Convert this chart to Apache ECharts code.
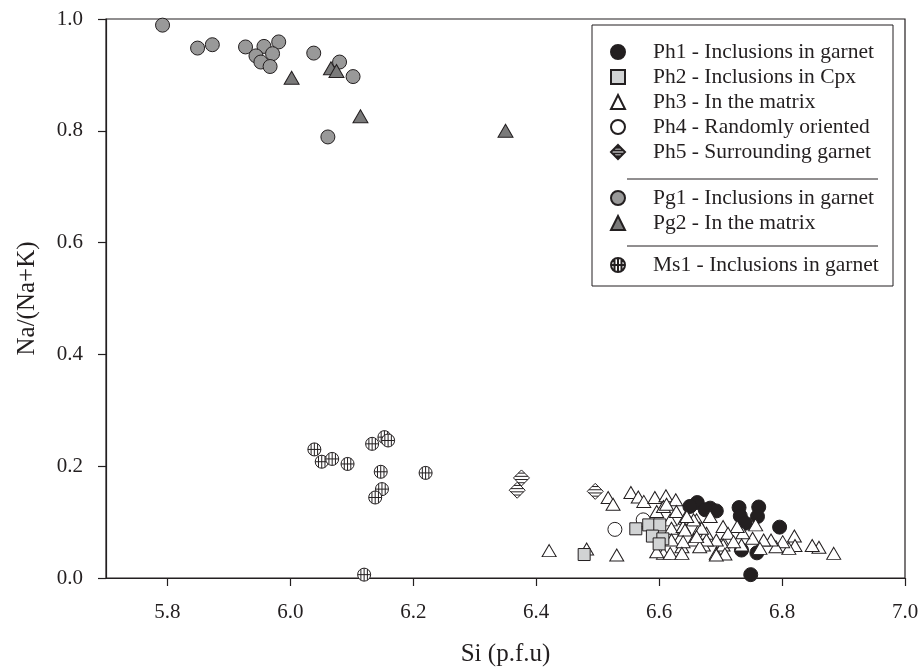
<!DOCTYPE html>
<html>
<head>
<meta charset="utf-8">
<script src="https://cdn.jsdelivr.net/npm/echarts@6/dist/echarts.min.js"></script>
<style>
html,body{margin:0;padding:0;background:#fff;}
#chart{width:919px;height:672px;}
</style>
</head>
<body>
<div id="chart"></div>
<script>
// ---- Data: [Si (p.f.u), Na/(Na+K)] ----
const ph1 = [[6.662,0.135],[6.683,0.125],[6.693,0.120],[6.650,0.128],[6.730,0.126],[6.762,0.127],[6.760,0.110],[6.732,0.111],[6.740,0.098],[6.796,0.091],[6.759,0.045],[6.734,0.050],[6.749,0.006],[6.675,0.122]];
const ph2 = [[6.478,0.042],[6.562,0.088],[6.583,0.095],[6.601,0.095],[6.589,0.075],[6.606,0.070],[6.600,0.061]];
const ph3 = [[6.421,0.049],[6.482,0.052],[6.531,0.041],[6.517,0.144],[6.525,0.132],[6.554,0.153],[6.566,0.145],[6.575,0.137],[6.593,0.144],[6.611,0.147],[6.627,0.140],
  [6.596,0.119],[6.607,0.128],[6.618,0.104],[6.620,0.089],[6.628,0.119],[6.642,0.107],[6.639,0.092],[6.634,0.071],[6.620,0.068],[6.607,0.044],[6.618,0.044],[6.637,0.056],[6.596,0.047],[6.661,0.104],[6.666,0.089],[6.677,0.080],[6.683,0.110],[6.656,0.068],[6.672,0.059],[6.693,0.044],[6.704,0.065],[6.704,0.092],
  [6.884,0.044],[6.860,0.055],[6.849,0.058],[6.820,0.075],[6.821,0.058],[6.811,0.053],[6.801,0.065],[6.790,0.056],[6.782,0.068],[6.770,0.068],[6.757,0.095],[6.752,0.071],[6.736,0.081],[6.727,0.092],[6.712,0.080],[6.704,0.059],[6.707,0.043],[6.693,0.041],[6.693,0.068],[6.677,0.068],[6.669,0.089],[6.666,0.056],[6.661,0.074],[6.656,0.104],[6.645,0.110],[6.642,0.086],[6.639,0.065],[6.637,0.044],[6.734,0.059],[6.721,0.065],[6.764,0.053],[6.580,0.100],[6.612,0.132]];
const ph4 = [[6.528,0.087],[6.574,0.104]];
const ph5 = [[6.376,0.179],[6.369,0.157],[6.496,0.155]];
const pg1 = [[5.792,0.989],[5.849,0.948],[5.873,0.954],[5.927,0.950],[5.957,0.951],[5.981,0.959],[5.944,0.934],[5.971,0.938],[5.952,0.923],[5.967,0.915],[6.038,0.939],[6.080,0.923],[6.102,0.897],[6.061,0.789]];
const pg2 = [[6.002,0.895],[6.066,0.912],[6.075,0.907],[6.114,0.826],[6.350,0.800]];
const ms1 = [[6.039,0.230],[6.051,0.208],[6.068,0.213],[6.093,0.204],[6.133,0.240],[6.153,0.252],[6.159,0.246],[6.147,0.190],[6.149,0.159],[6.138,0.144],[6.220,0.188],[6.120,0.006]];

const xTicks = [5.8, 6.0, 6.2, 6.4, 6.6, 6.8, 7.0];
const names = {
  ph1: 'Ph1 - Inclusions in garnet',
  ph2: 'Ph2 - Inclusions in Cpx',
  ph3: 'Ph3 - In the matrix',
  ph4: 'Ph4 - Randomly oriented',
  ph5: 'Ph5 - Surrounding garnet',
  pg1: 'Pg1 - Inclusions in garnet',
  pg2: 'Pg2 - In the matrix',
  ms1: 'Ms1 - Inclusions in garnet'
};

const INK = '#231f20';
const FONT = '"Liberation Serif", "DejaVu Serif", serif';
const msPath = 'path://M0,-10 A10,10 0 1,1 0,10 A10,10 0 1,1 0,-10 Z M-10,0 L10,0 M0,-10 L0,10 M-5,-8.66 L-5,8.66 M5,-8.66 L5,8.66';
const diaPath = 'path://M0,-10 L10,0 L0,10 L-10,0 Z M-4,-6 L4,-6 M-8,-2 L8,-2 M-8,2 L8,2 M-4,6 L4,6';

function sc(name, data, symbol, size, fill) {
  return {
    type: 'scatter', name: name, data: data, symbol: symbol, symbolSize: size,
    itemStyle: { color: fill, borderColor: INK, borderWidth: 1, opacity: 1 },
    emphasis: { disabled: true }
  };
}

const legendText = { fontFamily: FONT, fontSize: 21.5, color: INK, lineHeight: 22, padding: [0, 0, 0, 23] };
const legendBase = {
  orient: 'vertical', left: 610, padding: 0, itemWidth: 14, itemHeight: 14,
  itemGap: 3, textStyle: legendText, selectedMode: false
};

const chart = echarts.init(document.getElementById('chart'), null, { renderer: 'canvas' });
chart.setOption({
  animation: false,
  backgroundColor: '#fff',
  grid: { left: 106, right: 14, top: 19, bottom: 94, show: true, borderColor: INK, borderWidth: 1.2, backgroundColor: 'transparent', outerBoundsMode: 'none' },
  xAxis: {
    type: 'value', min: 5.7, max: 7.0,
    name: 'Si (p.f.u)', nameLocation: 'middle', nameGap: 64,
    nameTextStyle: { fontFamily: FONT, fontSize: 25, color: INK },
    axisLine: { onZero: false, lineStyle: { color: INK, width: 1.2 } },
    axisTick: { show: true, length: 8, customValues: xTicks, lineStyle: { color: INK, width: 1.2 } },
    axisLabel: { customValues: xTicks, margin: 24, fontFamily: FONT, fontSize: 21, color: INK, formatter: v => Number(v).toFixed(1) },
    splitLine: { show: false }
  },
  yAxis: {
    type: 'value', min: 0, max: 1, interval: 0.2,
    name: 'Na/(Na+K)', nameLocation: 'middle', nameGap: 66,
    nameTextStyle: { fontFamily: FONT, fontSize: 25, color: INK },
    axisLine: { lineStyle: { color: INK, width: 1.2 } },
    axisTick: { show: true, length: 8, lineStyle: { color: INK, width: 1.2 } },
    axisLabel: { margin: 23, fontFamily: FONT, fontSize: 21, color: INK, formatter: v => Number(v).toFixed(1) },
    splitLine: { show: false }
  },
  legend: [
    Object.assign({ top: 41, data: [names.ph1, names.ph2, names.ph3, names.ph4, names.ph5] }, legendBase),
    Object.assign({ top: 187, data: [names.pg1, names.pg2] }, legendBase),
    Object.assign({ top: 254, data: [names.ms1] }, legendBase)
  ],
  graphic: [
    { type: 'rect', shape: { x: 592, y: 25, width: 301, height: 261 }, style: { fill: 'none', stroke: INK, lineWidth: 1 }, z: 0 },
    { type: 'line', shape: { x1: 627, y1: 179, x2: 878, y2: 179 }, style: { stroke: INK, lineWidth: 1 } },
    { type: 'line', shape: { x1: 627, y1: 246, x2: 878, y2: 246 }, style: { stroke: INK, lineWidth: 1 } }
  ],
  series: [
    sc(names.ph1, ph1, 'circle', 14, INK),
    sc(names.ph3, ph3, 'triangle', [14, 12], '#ffffff'),
    sc(names.ph4, ph4, 'circle', 14, '#ffffff'),
    sc(names.ph2, ph2, 'rect', 12, '#d1d3d4'),
    sc(names.ph5, ph5, diaPath, 16, '#ffffff'),
    sc(names.pg1, pg1, 'circle', 14, '#999999'),
    sc(names.pg2, pg2, 'triangle', [15, 13], '#7a7a7a'),
    sc(names.ms1, ms1, msPath, 13, '#ffffff')
  ]
});
</script>
</body>
</html>
